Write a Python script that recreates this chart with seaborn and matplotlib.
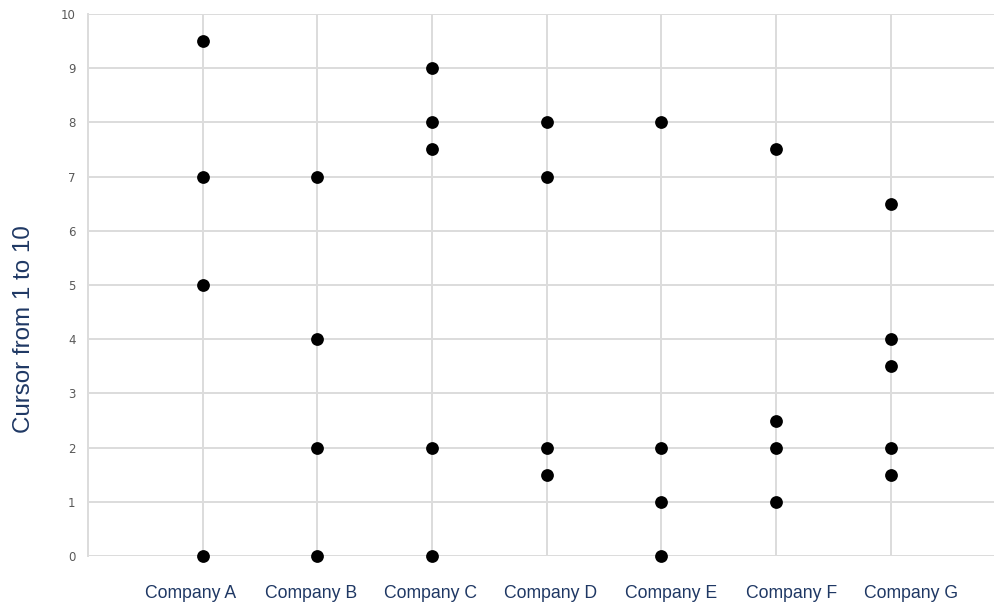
import matplotlib
matplotlib.use("Agg")
import matplotlib.pyplot as plt
import seaborn as sns
import pandas as pd

companies = ["Company A", "Company B", "Company C", "Company D",
             "Company E", "Company F", "Company G"]
scores_a = [9.5, 7, 5, 0]
scores_b = [7, 4, 2, 0]
scores_c = [9, 8, 7.5, 2, 0]
scores_d = [8, 7, 2, 1.5]
scores_e = [8, 2, 1, 0]
scores_f = [7.5, 2.5, 2, 1]
scores_g = [6.5, 4, 3.5, 2, 1.5]
y_ticks = list(range(0, 11))

all_scores = [scores_a, scores_b, scores_c, scores_d, scores_e, scores_f, scores_g]
df = pd.DataFrame({
    "company": [c for c, vals in zip(companies, all_scores) for _ in vals],
    "score": [v for vals in all_scores for v in vals],
})

sns.set_style("white")
plt.rcParams["font.family"] = ["Liberation Sans", "DejaVu Sans"]

fig = plt.figure(figsize=(9.95, 6.08), dpi=100)
ax = fig.add_axes([0.0884, 0.0855, 0.9116, 0.8915])

navy = "#1f3864"
grid_color = "#dcdcdc"

sns.stripplot(data=df, x="company", y="score", order=companies,
              jitter=False, color="black", size=9.2, linewidth=0, ax=ax, zorder=3)
for coll in ax.collections:
    coll.set_clip_on(False)

ax.set_xlim(-1, 6.91)
ax.set_ylim(0, 10)

# vertical grid lines sit on the categories (minor ticks),
# the company names are spread slightly wider (major ticks)
ax.set_xticks(range(len(companies)), minor=True)
ax.set_xticks([-0.103 + 1.047 * i for i in range(len(companies))])
ax.set_xticklabels(companies, fontsize=12.7, color=navy)
ax.set_axisbelow(True)
ax.xaxis.grid(False, which="major")
ax.xaxis.grid(True, which="minor", color=grid_color, linewidth=1.4)
ax.yaxis.grid(True, which="major", color=grid_color, linewidth=1.4)

ax.set_yticks(y_ticks)
ax.set_yticklabels([str(t) for t in y_ticks], family=["DejaVu Sans"],
                   fontsize=8.5, color="#595959")
ax.tick_params(axis="y", length=0, pad=9)
ax.tick_params(axis="x", which="both", length=0, pad=21)

for side in ["top", "right", "bottom"]:
    ax.spines[side].set_visible(False)
ax.spines["left"].set_color(grid_color)
ax.spines["left"].set_linewidth(1.4)

ax.set_xlabel("")
ax.set_ylabel("Cursor from 1 to 10", fontsize=17.4, color=navy)
ax.yaxis.set_label_coords(-0.058, 0.419)

fig.savefig("out.png", dpi=100)
